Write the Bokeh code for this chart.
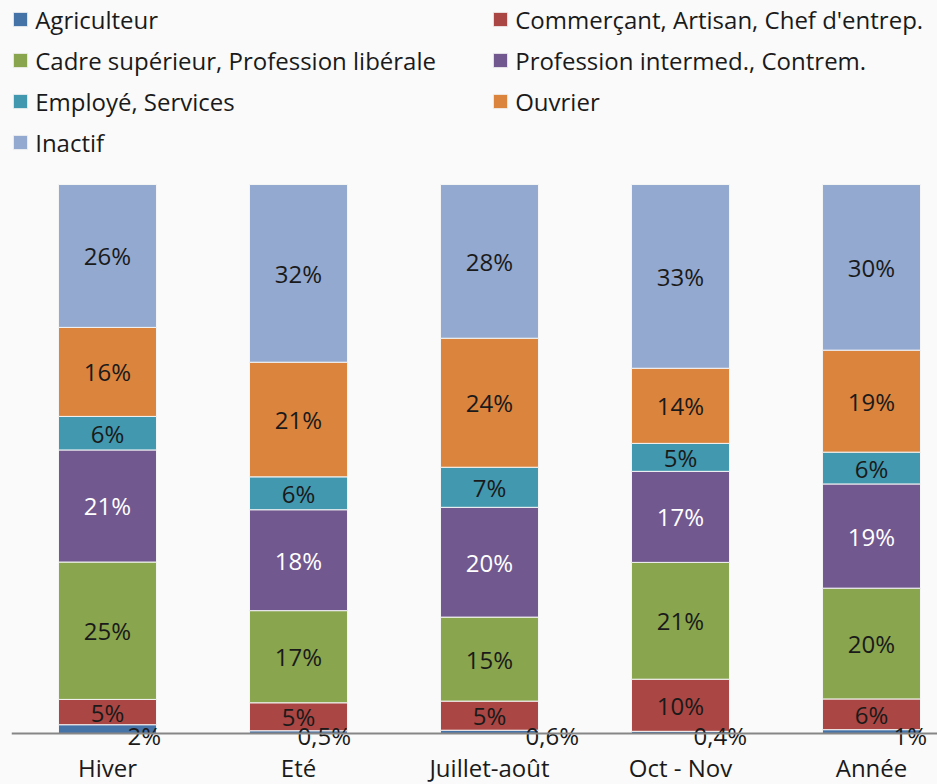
from bokeh.plotting import figure
from bokeh.models import Legend, LegendItem, FixedTicker, Range1d, ColumnDataSource
from bokeh.embed import file_html
from bokeh.resources import INLINE
from bokeh.core.properties import value

# ---- data (percent shares) ----
categories = ["Hiver", "Eté", "Juillet-août", "Oct - Nov", "Année"]
series_names = ["Agriculteur", "Commerçant, Artisan, Chef d'entrep.",
                "Cadre supérieur, Profession libérale", "Profession intermed., Contrem.",
                "Employé, Services", "Ouvrier", "Inactif"]

agriculteur = [1.6, 0.5, 0.6, 0.4, 0.7]
commercant = [4.6, 5.1, 5.3, 9.5, 5.6]
cadre = [25.0, 16.8, 15.3, 21.3, 20.2]
prof_inter = [20.4, 18.4, 20.0, 16.6, 19.0]
employe = [6.1, 6.0, 7.3, 5.1, 5.8]
ouvrier = [16.2, 20.9, 23.5, 13.7, 18.6]
inactif = [26.0, 32.4, 28.0, 33.5, 30.2]

lbl_agriculteur = ["2%", "0,5%", "0,6%", "0,4%", "1%"]
lbl_commercant = ["5%", "5%", "5%", "10%", "6%"]
lbl_cadre = ["25%", "17%", "15%", "21%", "20%"]
lbl_prof_inter = ["21%", "18%", "20%", "17%", "19%"]
lbl_employe = ["6%", "6%", "7%", "5%", "6%"]
lbl_ouvrier = ["16%", "21%", "24%", "14%", "19%"]
lbl_inactif = ["26%", "32%", "28%", "33%", "30%"]

# ---- styles ----
colors = ["#4572A7", "#AA4643", "#89A54E", "#71588F", "#4198AF", "#DB843D", "#93A9CF"]
FONT = "Open Sans"
INK = "#1A1A1A"
BG = "#FAFAFA"
small_label_dx = [20, -1, 36, 13, 22]   # pixel nudges of the tiny outside labels

raw = [agriculteur, commercant, cadre, prof_inter, employe, ouvrier, inactif]
labels = [lbl_agriculteur, lbl_commercant, lbl_cadre, lbl_prof_inter,
          lbl_employe, lbl_ouvrier, lbl_inactif]
totals = [sum(col) for col in zip(*raw)]
keys = [f"s{i}" for i in range(len(raw))]
data = {"x": list(range(len(categories)))}
for k, vals in zip(keys, raw):
    data[k] = [v / t * 100 for v, t in zip(vals, totals)]
src = ColumnDataSource(data)

p = figure(width=937, height=784, output_backend="svg", toolbar_location=None,
           x_range=Range1d(-0.5026, 4.3455), y_range=Range1d(-9.29, 133.52),
           min_border_left=11, min_border_right=0, min_border_top=0, min_border_bottom=0,
           background_fill_color=BG, border_fill_color=BG, outline_line_color=None)

rends = p.vbar_stack(keys, x="x", width=0.513, source=src,
                     fill_color=colors, line_color="#F4F4F4", line_width=1)

# labels inside segments
lx, ly, lt, lc = [], [], [], []
for si in range(1, len(raw)):
    for ci in range(len(categories)):
        bottom = sum(data[keys[j]][ci] for j in range(si))
        lx.append(ci)
        ly.append(bottom + data[keys[si]][ci] / 2)
        lt.append(labels[si][ci])
        lc.append("#FFFFFF" if si == 3 else INK)
p.text(x=lx, y=ly, text=lt, text_color=lc, text_align="center", text_baseline="middle",
       text_font=value(FONT), text_font_size="24px")

# tiny agriculteur labels below the axis
p.text(x=data["x"], y=[0] * len(categories), text=lbl_agriculteur, x_offset=small_label_dx,
       y_offset=2.5, text_color=INK, text_align="left", text_baseline="middle",
       text_font=value(FONT), text_font_size="24px")

# axis
p.xaxis.fixed_location = 0
p.xaxis.ticker = FixedTicker(ticks=list(range(len(categories))))
p.xaxis.major_label_overrides = {i: c for i, c in enumerate(categories)}
p.xaxis.axis_line_color = "#868686"
p.xaxis.axis_line_width = 2
p.xaxis.major_tick_line_color = None
p.xaxis.minor_tick_line_color = None
p.xaxis.major_label_standoff = 12
p.xaxis.major_label_text_font = FONT
p.xaxis.major_label_text_font_size = "24px"
p.xaxis.major_label_text_color = INK
p.yaxis.visible = False
p.xgrid.visible = False
p.ygrid.visible = False

common = dict(label_text_font=FONT, label_text_font_size="24px", label_text_color=INK,
              glyph_width=18, glyph_height=18, label_standoff=6, spacing=8,
              padding=0, margin=0, background_fill_alpha=0, border_line_alpha=0)
leg1 = Legend(items=[LegendItem(label=series_names[i], renderers=[rends[i]]) for i in (0, 2, 4, 6)],
              location=(0.2, 625.5), **common)
leg2 = Legend(items=[LegendItem(label=series_names[i], renderers=[rends[i]]) for i in (1, 3, 5)],
              location=(480.2, 666.5), **common)
p.add_layout(leg1)
p.add_layout(leg2)

html = file_html(p, INLINE)
html = html.replace("</head>", "<style>body{background:#FAFAFA;}</style></head>", 1)
open("out.html", "w").write(html)
